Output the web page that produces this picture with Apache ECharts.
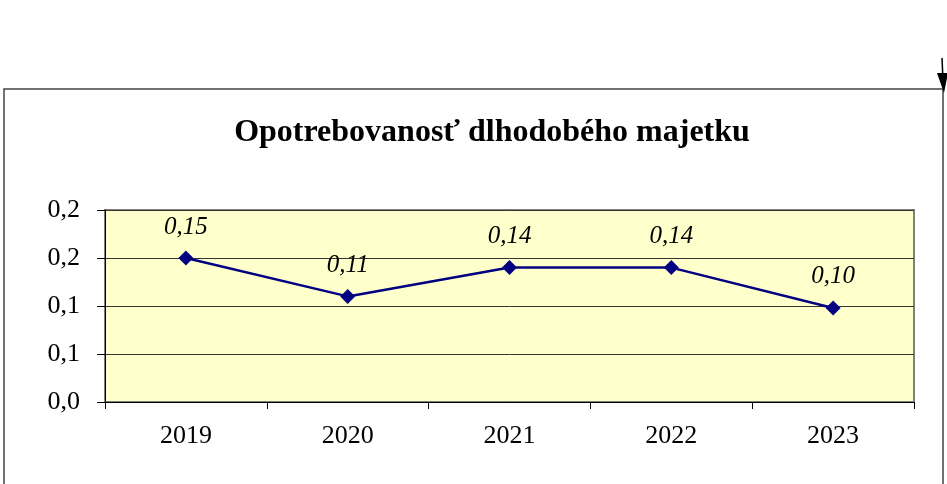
<!DOCTYPE html>
<html>
<head>
<meta charset="utf-8">
<script src="https://cdn.jsdelivr.net/npm/echarts@6/dist/echarts.min.js"></script>
<style>html,body{margin:0;padding:0;background:#fff;}#c{width:947px;height:484px;}</style>
</head>
<body>
<div id="c"></div>
<script>
const titleText = 'Opotrebovanosť dlhodobého majetku';
const years = ['2019', '2020', '2021', '2022', '2023'];
const values = [0.15, 0.11, 0.14, 0.14, 0.098];
const yTickLabels = ['0,0', '0,1', '0,1', '0,2', '0,2'];

const chart = echarts.init(document.getElementById('c'));
const serif = '"Liberation Serif", "Times New Roman", serif';
chart.setOption({
  animation: false,
  backgroundColor: '#fff',
  title: {
    text: titleText,
    left: 487,
    textAlign: 'center',
    top: 112,
    textStyle: { fontFamily: serif, fontWeight: 'bold', fontSize: 32, color: '#000' }
  },
  graphic: [
    { type: 'rect', shape: { x: 4, y: 89, width: 939, height: 430 }, style: { fill: null, stroke: '#444', lineWidth: 1.5 }, z: -1 },
    { type: 'line', shape: { x1: 942, y1: 58, x2: 943, y2: 80 }, style: { stroke: '#000', lineWidth: 1.5 } },
    { type: 'polygon', shape: { points: [[937, 73], [948, 73], [944, 93]] }, style: { fill: '#000' } }
  ],
  grid: {
    left: 105, right: 33, top: 210, bottom: 82,
    show: true, backgroundColor: '#FFFFCC', borderColor: '#808080', borderWidth: 2
  },
  xAxis: {
    type: 'category',
    data: years,
    boundaryGap: true,
    axisLine: { lineStyle: { color: '#000', width: 1 } },
    axisTick: { show: true, length: 7, lineStyle: { color: '#000' } },
    axisLabel: { fontFamily: serif, fontSize: 26, color: '#000', margin: 21 },
    splitLine: { show: false }
  },
  yAxis: {
    type: 'value',
    min: 0, max: 0.2, interval: 0.05,
    axisLine: { show: true, lineStyle: { color: '#000', width: 1 } },
    axisTick: { show: true, length: 8, lineStyle: { color: '#000' } },
    axisLabel: {
      fontFamily: serif, fontSize: 26, color: '#000', margin: 25,
      formatter: function (v, i) { return yTickLabels[i]; }
    },
    splitLine: { show: true, lineStyle: { color: '#333', width: 1 } }
  },
  series: [{
    type: 'line',
    data: values,
    symbol: 'diamond',
    symbolSize: 15,
    lineStyle: { color: '#000080', width: 2.5 },
    itemStyle: { color: '#000080' },
    label: {
      show: true, position: 'top', distance: 11,
      fontFamily: serif, fontStyle: 'italic', fontSize: 25, color: '#000',
      formatter: function (p) { return p.value.toFixed(2).replace('.', ','); }
    }
  }]
});
</script>
</body>
</html>
